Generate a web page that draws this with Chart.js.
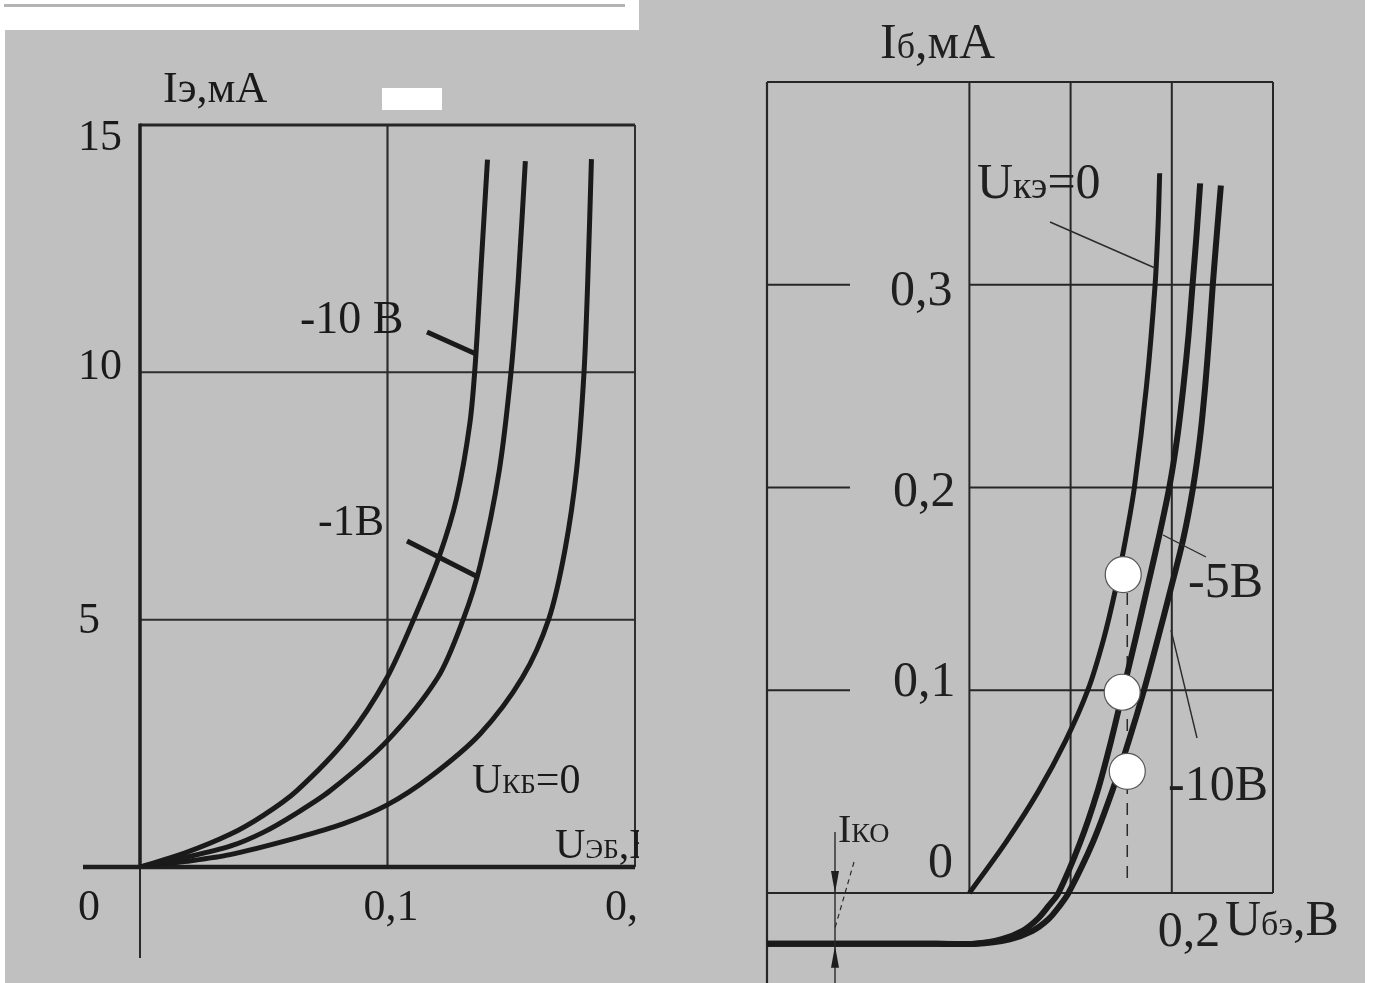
<!DOCTYPE html>
<html><head><meta charset="utf-8">
<script src="https://cdn.jsdelivr.net/npm/chart.js@4.4.0/dist/chart.umd.min.js"></script>
<style>
html,body{margin:0;padding:0;background:#fff;overflow:hidden;width:1373px;height:983px}
canvas{position:absolute;top:0}
#cl{left:0}
#cr{left:639px}
</style></head><body>
<canvas id="cl" width="640" height="983"></canvas>
<canvas id="cr" width="734" height="983"></canvas>
<script>
// ---------- Left panel: I_э (mA) vs U_эб (V) ----------
const uEB_m10 = [0, 0.018, 0.0364, 0.0500, 0.0633, 0.0835, 0.0997, 0.1118, 0.1211, 0.1279, 0.1333, 0.1355, 0.1380, 0.1404];
const iE_m10  = [0, 0.28, 0.66, 1.05, 1.54, 2.59, 3.82, 5.15, 6.31, 7.45, 8.98, 10.2, 12.3, 14.3];
const uEB_m1  = [0, 0.018, 0.0364, 0.0498, 0.0630, 0.0768, 0.0997, 0.1203, 0.1307, 0.1375, 0.1452, 0.1499, 0.1528, 0.1557];
const iE_m1   = [0, 0.19, 0.42, 0.70, 1.08, 1.54, 2.54, 3.83, 5.02, 6.11, 8.03, 10.0, 11.84, 14.27];
const uEB_0   = [0, 0.018, 0.0364, 0.0633, 0.0820, 0.0997, 0.1172, 0.1374, 0.1545, 0.1652, 0.1717, 0.1764, 0.1794, 0.1809, 0.1824];
const iE_0    = [0, 0.11, 0.25, 0.59, 0.87, 1.25, 1.82, 2.69, 3.83, 5.02, 6.41, 8.03, 10.0, 11.84, 14.31];
const leftXTickValues = [0, 0.1, 0.2];
const leftXTickLabels = ['0', '0,1', '0,'];
const leftYTickValues = [15, 10, 5];
const leftYTickLabels = ['15', '10', '5'];

// ---------- Right panel: I_б (mA) vs U_бэ (V) ----------
const uBE_k0  = [0, 0.036, 0.068, 0.095, 0.117, 0.1325, 0.1445, 0.1545, 0.163, 0.175, 0.1835, 0.1865, 0.188];
const iB_k0   = [0, 0.025, 0.050, 0.075, 0.100, 0.125, 0.150, 0.175, 0.200, 0.250, 0.300, 0.330, 0.355];
const uBE_m5  = [-0.2, -0.05, 0.006, 0.032, 0.052, 0.067, 0.078, 0.088, 0.1095, 0.1265, 0.140, 0.152, 0.164, 0.1755, 0.187, 0.1975, 0.2055, 0.2115, 0.2165, 0.2205, 0.2245, 0.228];
const iB_m5   = [-0.025, -0.025, -0.025, -0.0228, -0.0188, -0.013, -0.0065, 0, 0.025, 0.050, 0.075, 0.100, 0.125, 0.150, 0.175, 0.200, 0.225, 0.250, 0.275, 0.300, 0.325, 0.350];
const uBE_m10 = [-0.2, -0.05, 0.006, 0.040, 0.062, 0.078, 0.089, 0.098, 0.122, 0.141, 0.1575, 0.1725, 0.186, 0.199, 0.2115, 0.221, 0.228, 0.233, 0.237, 0.2405, 0.2445, 0.2485];
const iB_m10  = [-0.025, -0.025, -0.025, -0.0228, -0.0188, -0.013, -0.0065, 0, 0.025, 0.050, 0.075, 0.100, 0.125, 0.150, 0.175, 0.200, 0.225, 0.250, 0.275, 0.300, 0.325, 0.349];
const markU   = [0.152, 0.151, 0.156];
const markI   = [0.157, 0.099, 0.060];
const dashU   = [0.156, 0.156];
const dashI   = [0.148, 0.007];
const rightYTickValues = [0.3, 0.2, 0.1, 0];
const rightYTickLabels = ['0,3', '0,2', '0,1', '0'];
const rightXTickValues = [0.2];
const rightXTickLabels = ['0,2'];

const FONT = '"Liberation Serif","DejaVu Serif",serif';
const INK = '#1a1a1a';
const GRAY = '#c0c0c0';

function zip(xs, ys){ return xs.map((x,i)=>({x, y: ys[i]})); }
function seg(c, x1, y1, x2, y2, w, col, dash){
  c.save(); c.beginPath(); c.lineWidth = w; c.strokeStyle = col || '#262626';
  if (dash) c.setLineDash(dash);
  c.moveTo(x1, y1); c.lineTo(x2, y2); c.stroke(); c.restore();
}
function txt(c, parts, x, y, col){
  c.save(); c.fillStyle = col || INK; c.textBaseline = 'alphabetic'; c.textAlign = 'left';
  let cx = x;
  for (const [s, sz] of parts){ c.font = sz + 'px ' + FONT; c.fillText(s, cx, y); cx += c.measureText(s).width; }
  c.restore();
}
function curve(data, w, order){
  return {data, showLine:true, borderColor:INK, borderWidth:w, pointRadius:0,
          tension:0.3, fill:false, order, borderCapStyle:'butt', borderJoinStyle:'round'};
}
const baseOpts = {
  responsive:false, maintainAspectRatio:false, animation:false, devicePixelRatio:1, events:[],
  plugins:{legend:{display:false}, tooltip:{enabled:false}}
};

// ---------- Left chart ----------
const leftDecor = {
  id:'leftDecor',
  beforeDraw(chart){
    const c = chart.ctx;
    c.save();
    c.fillStyle = '#fff'; c.fillRect(0, 0, 640, 983);
    c.fillStyle = GRAY; c.fillRect(5, 30, 635, 953);
    c.fillStyle = '#b4b4b4'; c.fillRect(4, 4, 621, 3);
    c.restore();
  },
  beforeDatasetsDraw(chart){
    const c = chart.ctx, X = v => chart.scales.x.getPixelForValue(v), Y = v => chart.scales.y.getPixelForValue(v);
    seg(c, X(0.1), Y(15), X(0.1), Y(0), 2.2, '#2e2e2e');
    for (const v of [5, 10]) seg(c, X(0), Y(v), X(0.2), Y(v), 2, '#2e2e2e');
    seg(c, X(0), Y(15), X(0.2), Y(15), 3, '#262626');
    seg(c, X(0.2), Y(15), X(0.2), Y(0), 2, '#2e2e2e');
    seg(c, X(0), Y(15) - 1.5, X(0), Y(0), 3.5, '#1e1e1e');
    seg(c, X(0), Y(0), X(0), 958, 2, '#2a2a2a');
    seg(c, 83, Y(0), X(0.2), Y(0), 4.5, '#1e1e1e');
  },
  afterDatasetsDraw(chart){
    const c = chart.ctx, X = v => chart.scales.x.getPixelForValue(v), Y = v => chart.scales.y.getPixelForValue(v);
    c.save(); c.fillStyle = '#fff'; c.fillRect(382, 88, 60, 22); c.restore();
    const yOff = [25, 7, 13];
    leftYTickLabels.forEach((t, i) => txt(c, [[t, 44]], 78, Y(leftYTickValues[i]) + yOff[i]));
    const xOff = [-62, -24, -30];
    leftXTickLabels.forEach((t, i) => txt(c, [[t, 44]], X(leftXTickValues[i]) + xOff[i], 920));
    txt(c, [['Iэ,мА', 44]], 163, 102);
    txt(c, [['-10 В', 46]], 300, 333);
    txt(c, [['-1В', 44]], 318, 535);
    txt(c, [['U', 42], ['КБ', 27], ['=0', 42]], 472, 793);
    txt(c, [['U', 42], ['ЭБ', 27], [',В', 42]], 555, 858);
    seg(c, 427, 332, 476, 354, 5, INK);
    seg(c, 407, 541, 476, 576, 5, INK);
  }
};
new Chart(document.getElementById('cl'), {
  type:'scatter',
  data:{datasets:[
    curve(zip(uEB_m10, iE_m10), 5, 1),
    curve(zip(uEB_m1, iE_m1), 5, 1),
    curve(zip(uEB_0, iE_0), 5, 1)
  ]},
  options:Object.assign({}, baseOpts, {
    layout:{autoPadding:false, padding:{left:140, right:5, top:125, bottom:116}},
    scales:{x:{type:'linear', min:0, max:0.2, display:false}, y:{type:'linear', min:0, max:15, display:false}}
  }),
  plugins:[leftDecor]
});

// ---------- Right chart ----------
const OFF = 639;
const rightDecor = {
  id:'rightDecor',
  beforeDraw(chart){
    const c = chart.ctx;
    c.save(); c.fillStyle = GRAY; c.fillRect(0, 0, 1365 - OFF, 983); c.restore();
  },
  beforeDatasetsDraw(chart){
    const c = chart.ctx, X = v => chart.scales.x.getPixelForValue(v), Y = v => chart.scales.y.getPixelForValue(v);
    const g = '#262626';
    seg(c, X(-0.2), Y(0.4), X(0.3), Y(0.4), 2.2, g);
    seg(c, X(-0.2), Y(0.4), X(-0.2), 983, 2.2, g);
    seg(c, X(0.3), Y(0.4), X(0.3), Y(0), 2, g);
    for (const v of [0, 0.1, 0.2]) seg(c, X(v), Y(0.4), X(v), Y(0), 2, g);
    for (const v of [0.1, 0.2, 0.3]){
      seg(c, X(-0.2), Y(v), X(-0.118), Y(v), 2, g);
      seg(c, X(0), Y(v), X(0.3), Y(v), 2, g);
    }
    seg(c, X(-0.2), Y(0), X(0.3), Y(0), 2.2, g);
  },
  afterDatasetsDraw(chart){
    const c = chart.ctx, X = v => chart.scales.x.getPixelForValue(v), Y = v => chart.scales.y.getPixelForValue(v);
    const P = px => px - OFF;
    const yOff = [20, 19, 6, -16];
    const yLeft = [890, 893, 893, 928];
    rightYTickLabels.forEach((t, i) => txt(c, [[t, 50]], P(yLeft[i]), Y(rightYTickValues[i]) + yOff[i], '#202020'));
    rightXTickLabels.forEach((t, i) => txt(c, [[t, 50]], X(rightXTickValues[i]) - 14, 946, '#202020'));
    txt(c, [['I', 50], ['б', 36], [',мА', 50]], P(880), 58, '#202020');
    txt(c, [['U', 50], ['бэ', 34], [',В', 50]], P(1225), 935, '#202020');
    txt(c, [['U', 50], ['кэ', 38], ['=0', 50]], P(977), 198, '#202020');
    txt(c, [['-5В', 50]], P(1188), 597, '#202020');
    txt(c, [['-10В', 50]], P(1168), 800, '#202020');
    txt(c, [['I', 40], ['КО', 28]], P(838), 842, '#202020');
    seg(c, P(1050), 222, P(1155), 268, 1.4, '#2a2a2a');
    seg(c, P(1163), 535, P(1206), 557, 1.4, '#2a2a2a');
    seg(c, P(1171), 630, P(1197), 738, 1.4, '#2a2a2a');
    // I_KO dimension arrows
    seg(c, P(835), 832, P(835), 983, 1.4, '#2a2a2a');
    seg(c, P(854), 862, P(835), 928, 1.2, '#2a2a2a', [5, 4]);
    c.save(); c.fillStyle = '#1e1e1e';
    c.beginPath(); c.moveTo(P(835), Y(0)); c.lineTo(P(831), Y(0) - 22); c.lineTo(P(839), Y(0) - 22); c.closePath(); c.fill();
    c.beginPath(); c.moveTo(P(835), Y(-0.025) + 2); c.lineTo(P(831), Y(-0.025) + 24); c.lineTo(P(839), Y(-0.025) + 24); c.closePath(); c.fill();
    c.restore();
  }
};
new Chart(document.getElementById('cr'), {
  type:'scatter',
  data:{datasets:[
    {data:zip(markU, markI), pointRadius:18, pointBackgroundColor:'#ffffff', pointBorderColor:'#555', pointBorderWidth:1.2, showLine:false, order:0},
    curve(zip(uBE_k0, iB_k0), 5, 1),
    curve(zip(uBE_m5, iB_m5), 6, 1),
    curve(zip(uBE_m10, iB_m10), 6, 1),
    {data:zip(dashU, dashI), showLine:true, borderColor:'#2a2a2a', borderWidth:1.5, borderDash:[12, 9], pointRadius:0, order:2}
  ]},
  options:Object.assign({}, baseOpts, {
    layout:{autoPadding:false, padding:{left:128, right:100, top:82, bottom:0}},
    scales:{x:{type:'linear', min:-0.2, max:0.3, display:false}, y:{type:'linear', min:-0.0444, max:0.4, display:false}}
  }),
  plugins:[rightDecor]
});
</script>
</body></html>
